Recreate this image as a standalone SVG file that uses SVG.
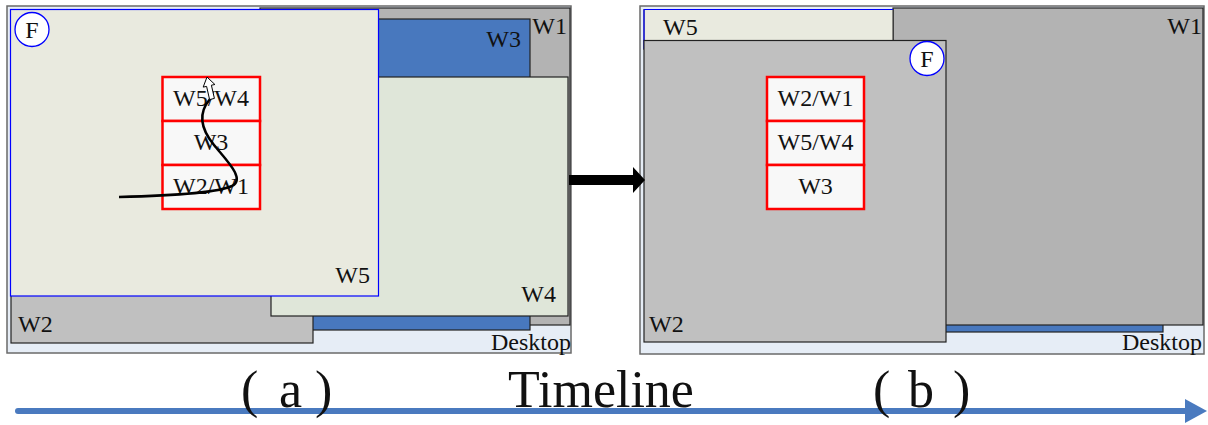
<svg xmlns="http://www.w3.org/2000/svg" width="1208" height="425" viewBox="0 0 1208 425">
<style>
.t{font-family:"Liberation Serif","Times New Roman",serif;fill:#111;}
.lab{font-size:24px;}
.big{font-size:52px;}
.desk{fill:#e6edf6;stroke:#6a6a6a;stroke-width:1.5;}
.win{stroke:#222;stroke-width:1.2;}
.w1{fill:#b3b3b3;}
.w2{fill:#c0c0c0;}
.w3{fill:#4878be;}
.w4{fill:#dfe6d9;}
.w5{fill:#e9eadf;}
.focus{stroke:#0000ff;stroke-width:1.2;}
.cell{fill:#f8f8f8;stroke:#ff0000;stroke-width:2.5;}
.fc{fill:#fff;stroke:#0000ff;stroke-width:1.3;}
</style>
<rect width="1208" height="425" fill="#fff"/>

<!-- Panel (a) -->
<g id="panel-a">
  <g id="a-desktop"><rect class="desk" x="7" y="6" width="564" height="347"/>
    <text class="t lab" x="571" y="350" text-anchor="end">Desktop</text></g>
  <g id="a-w1"><rect class="win w1" x="260" y="8" width="310" height="317"/>
    <text class="t lab" x="567" y="34" text-anchor="end">W1</text></g>
  <g id="a-w3"><rect class="win w3" x="272" y="19" width="258" height="311"/>
    <text class="t lab" x="521" y="47" text-anchor="end">W3</text></g>
  <g id="a-w2"><rect class="win w2" x="11" y="280" width="302" height="63"/>
    <text class="t lab" x="18" y="332">W2</text></g>
  <g id="a-w4"><rect class="win w4" x="271" y="77" width="297" height="239"/>
    <text class="t lab" x="556" y="302" text-anchor="end">W4</text></g>
  <g id="a-w5"><rect class="focus w5" x="10.5" y="9.5" width="368" height="286.5"/>
    <text class="t lab" x="370" y="283" text-anchor="end">W5</text></g>
  <g id="a-focus"><circle class="fc" cx="32" cy="29.5" r="17"/>
    <text class="t lab" x="32" y="38" text-anchor="middle">F</text></g>
  <g id="a-stack">
    <rect class="cell" x="162.5" y="77" width="97.5" height="44"/>
    <rect class="cell" x="162.5" y="121" width="97.5" height="44"/>
    <rect class="cell" x="162.5" y="165" width="97.5" height="44"/>
    <text class="t lab" x="211" y="106" text-anchor="middle">W5/W4</text>
    <text class="t lab" x="211" y="150" text-anchor="middle">W3</text>
    <text class="t lab" x="211" y="194" text-anchor="middle">W2/W1</text>
  </g>
</g>

<!-- Panel (b) -->
<g id="panel-b">
  <g id="b-desktop"><rect class="desk" x="640" y="6" width="564" height="348"/>
    <text class="t lab" x="1202" y="350" text-anchor="end">Desktop</text></g>
  <g id="b-w3"><rect class="win w3" x="900" y="300" width="263" height="32"/></g>
  <g id="b-w1"><rect class="win w1" x="893" y="8" width="310" height="317"/>
    <text class="t lab" x="1202" y="34" text-anchor="end">W1</text></g>
  <g id="b-w5"><rect class="w5" x="644" y="9.5" width="249" height="40" stroke="#222" stroke-width="1"/>
    <line x1="644" y1="9.5" x2="644" y2="49" stroke="#0000ff" stroke-width="1.2"/>
    <line x1="644" y1="9.5" x2="893" y2="9.5" stroke="#0000ff" stroke-width="1"/>
    <text class="t lab" x="663" y="35">W5</text></g>
  <g id="b-w2"><rect class="win w2" x="644" y="40.5" width="302" height="301.5"/>
    <text class="t lab" x="649" y="332">W2</text></g>
  <g id="b-focus"><circle class="fc" cx="927" cy="58.5" r="17"/>
    <text class="t lab" x="927" y="67" text-anchor="middle">F</text></g>
  <g id="b-stack">
    <rect class="cell" x="767" y="77" width="97" height="44"/>
    <rect class="cell" x="767" y="121" width="97" height="44"/>
    <rect class="cell" x="767" y="165" width="97" height="44"/>
    <text class="t lab" x="815.5" y="106" text-anchor="middle">W2/W1</text>
    <text class="t lab" x="815.5" y="150" text-anchor="middle">W5/W4</text>
    <text class="t lab" x="815.5" y="194" text-anchor="middle">W3</text>
  </g>
</g>

<!-- Connectors -->
<g id="connectors">
  <path d="M119,197 C160,196 215,194 232,186 C246,179 226,160 214,145 C200,128 198,113 210,99" fill="none" stroke="#000" stroke-width="2.5"/>
  <polygon points="207,77 214.9,84.5 211.4,85.2 214.4,98.4 209.6,99.6 206.6,86.4 203.2,87.1" fill="#fff" stroke="#000" stroke-width="1"/>
  <polygon points="569,175 633,175 633,167 645,180 633,193 633,185 569,185" fill="#000"/>
  <line x1="18" y1="411" x2="1187" y2="411" stroke="#4a7abf" stroke-width="6" stroke-linecap="round"/>
  <polygon points="1185,399 1207,411 1185,423" fill="#4a7abf"/>
</g>

<g id="labels">
  <text class="t big" y="407"><tspan x="241">(</tspan><tspan x="279">a</tspan><tspan x="315">)</tspan></text>
  <text class="t big" x="601" y="407" text-anchor="middle">Timeline</text>
  <text class="t big" y="407"><tspan x="873">(</tspan><tspan x="908">b</tspan><tspan x="953">)</tspan></text>
</g>
</svg>
